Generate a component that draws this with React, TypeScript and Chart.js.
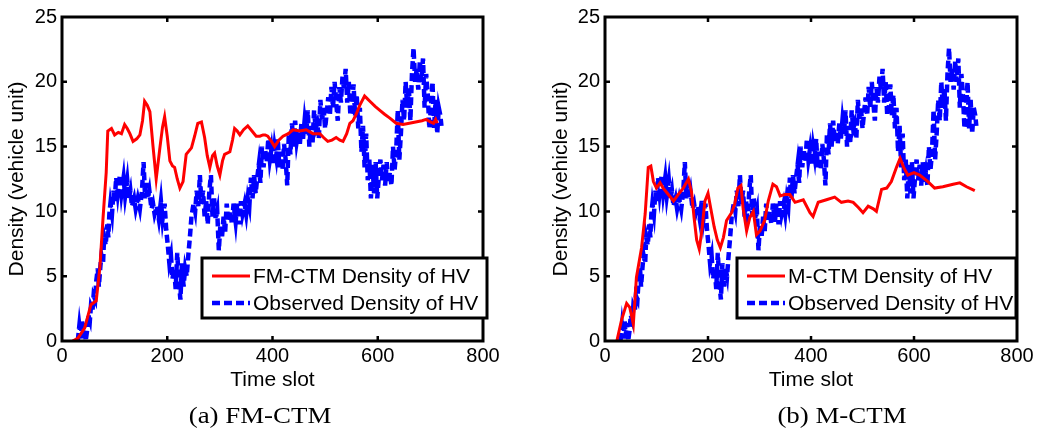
import React, { useEffect, useRef } from "react";
import { Chart, registerables } from "chart.js";
Chart.register(...registerables);

// ---------- data ----------
const xMin = 0;
const xMax = 800;
const xStep = 200;
const yMin = 0;
const yMax = 25;
const yStep = 5;

const obsTime = [
  30, 33, 36, 38, 40, 43, 45, 48, 50, 53, 55, 58, 60, 63, 65, 68, 70, 73, 75, 78, 80, 83, 86, 88, 90, 92, 95, 98, 100,
  103, 106, 110, 113, 117, 120, 124, 127, 130, 133, 137, 140, 144, 148, 152, 155, 158, 160, 163, 166, 170, 173, 176,
  180, 184, 188, 191, 195, 198, 201, 204, 207, 210, 213, 216, 219, 222, 225, 228, 231, 234, 237, 240, 243, 246, 250,
  253, 256, 259, 262, 265, 268, 271, 274, 277, 280, 283, 286, 289, 292, 295, 298, 301, 304, 307, 310, 313, 316, 320,
  323, 326, 330, 333, 337, 340, 343, 347, 350, 353, 356, 359, 362, 365, 368, 371, 374, 377, 380, 383, 386, 389, 392,
  395, 398, 401, 404, 407, 410, 413, 416, 419, 422, 425, 428, 431, 434, 437, 440, 443, 446, 449, 452, 455, 458, 461,
  464, 467, 470, 473, 476, 479, 482, 485, 488, 491, 494, 497, 500, 503, 506, 509, 512, 515, 518, 521, 524, 527, 530,
  533, 536, 539, 542, 545, 548, 551, 554, 557, 560, 563, 566, 569, 572, 575, 578, 581, 584, 587, 590, 593, 596, 599,
  602, 605, 608, 611, 614, 617, 620, 623, 626, 629, 632, 635, 638, 641, 644, 647, 650, 653, 656, 659, 662, 665, 668,
  671, 674, 677, 680, 683, 686, 689, 692, 695, 698, 701, 704, 707, 710, 713, 716, 719, 721,
];
const obsDensity = [
  0, 1.2, 0.2, 1.6, 0.4, 1.4, 0, 0.9, 2, 1.6, 2.7, 2.4, 3.5, 3.2, 4.6, 5.6, 4.2, 5.8, 6.6, 6, 8, 7.4, 9, 8, 9.8, 10.6,
  9.8, 11.6, 10.8, 12.6, 11.4, 12.8, 11.4, 12.6, 11.2, 12.4, 11, 11.6, 10.4, 11, 10.2, 11, 10.2, 11.6, 13.8, 11, 12.2,
  11, 11.6, 10.2, 10.6, 9.8, 10.4, 9.4, 10.8, 9.4, 10.6, 8.6, 7.4, 6, 6.6, 4.8, 5.6, 4, 6.8, 4.6, 3.2, 6, 4.2, 5.6, 5,
  6.6, 8, 9.6, 10.6, 10, 11.6, 10.4, 12.8, 10.6, 11.6, 9.6, 10.8, 9, 11.6, 12.8, 9.6, 11, 9.4, 10, 7, 9, 8, 9.6, 8.4,
  10.6, 9.2, 10, 9, 10.6, 9.2, 10.6, 9, 10.8, 9.8, 10.6, 9.8, 11, 10.4, 12.6, 11, 12.8, 11.4, 12.6, 13.6, 12.2, 15,
  13.4, 14.8, 13.8, 15.6, 14, 14.8, 13.6, 15, 14.2, 15.6, 13.4, 14.6, 13.2, 15.2, 14, 12, 16, 14.4, 16.8, 15, 17, 15.4,
  16.2, 15.2, 16.8, 15.6, 17, 16, 17.8, 15, 16.6, 15.2, 17.8, 16.4, 16.8, 15.6, 18.6, 17, 18, 16.4, 17.6, 18.8, 17.4,
  19.6, 18, 20, 18.4, 17, 19.6, 18.4, 20.4, 19.4, 21, 18.4, 20, 17.4, 18, 19.8, 17.4, 19, 16.4, 18, 14.6, 16.6, 13.4,
  16, 12.4, 14, 11, 13.6, 11.4, 13.8, 11, 12.6, 14, 12.4, 13.6, 12, 13.8, 12.2, 13, 12, 15, 13.2, 14.6, 17.8, 14, 16,
  18.6, 17, 20, 18, 19.6, 17, 20.6, 22.6, 20, 21, 19.4, 21.6, 20, 21.8, 18, 20.6, 19, 16.4, 18, 20, 16.4, 18.6, 16,
  18, 17.4, 16.6,
];

const fmTime = [
  20, 30, 43, 55, 65, 72, 78, 84, 87, 94, 100, 107, 113, 119, 124, 129, 135, 142, 148, 153, 157, 162, 167, 173, 179,
  186, 191, 195, 200, 205, 210, 214, 219, 224, 230, 236, 246, 252, 258, 265, 271, 276, 281, 286, 290, 295, 300, 305,
  309, 319, 324, 328, 333, 338, 345, 353, 361, 369, 376, 382, 386, 391, 398, 404, 412, 420, 430, 439, 452, 464, 477,
  490, 497, 505, 513, 521, 528, 534, 541, 547, 553, 559, 566, 575, 580, 585, 595, 604, 613, 623, 635, 648, 660, 672,
  684, 692, 700, 706, 710, 713,
];
const fmDensity = [
  0, 0.2, 1, 2.8, 3.1, 5.7, 9.5, 13, 16.2, 16.4, 15.9, 16.1, 16, 16.7, 16.4, 16, 15.4, 15.6, 15.9, 17, 18.5, 18.2,
  17.7, 15, 12.5, 14.9, 16.5, 17.3, 15.8, 13.9, 13.5, 13.4, 12.5, 11.8, 12.3, 14.4, 14.9, 15.8, 16.8, 16.9, 15.7, 14.3,
  13.4, 14.3, 14.5, 13.5, 12.8, 13.9, 14.4, 14.6, 15.5, 16.4, 16.2, 15.9, 16.3, 16.6, 16.2, 15.8, 15.8, 15.9, 15.9,
  15.8, 15.4, 15, 15.5, 15.8, 16, 16.3, 16.2, 16.3, 16, 16, 15.7, 15.4, 15.5, 15.7, 15.5, 15.4, 16, 16.8, 17, 17.5,
  18.2, 18.9, 18.7, 18.5, 18.1, 17.8, 17.5, 17.2, 16.8, 16.7, 16.8, 16.9, 17, 17.1, 16.9, 16.8, 17.1, 16.8,
];

const mTime = [
  23, 32, 42, 48, 55, 61, 71, 78, 84, 89, 94, 100, 107, 113, 123, 133, 142, 152, 162, 168, 173, 178, 183, 188, 194,
  200, 205, 212, 218, 224, 230, 236, 246, 252, 258, 264, 268, 275, 281, 288, 294, 301, 310, 317, 326, 333, 340, 349,
  359, 369, 385, 398, 404, 414, 430, 446, 459, 472, 482, 492, 501, 511, 521, 527, 537, 547, 556, 566, 573, 580, 588,
  600, 611, 627, 640, 656, 676, 689, 702, 718,
];
const mDensity = [
  0, 1.6, 2.9, 2.6, 1.3, 4.9, 7.2, 9.8, 13.4, 13.5, 12.3, 11.8, 12.2, 11.8, 11.3, 10.8, 11.3, 11.8, 12.5, 11.5, 9.5,
  7.8, 7.1, 8.5, 10.8, 11.4, 10.3, 8.8, 7.8, 7.2, 8, 9.3, 9.9, 10.6, 11.8, 12, 10.3, 8.5, 9.5, 10, 8.2, 8.5, 9.3, 10.8,
  12.1, 11.9, 11.2, 11.3, 11.3, 10.7, 10.9, 9.9, 9.6, 10.7, 10.9, 11.1, 10.7, 10.8, 10.7, 10.3, 9.9, 10.4, 10.2, 10,
  11.7, 11.8, 12.3, 13.4, 14.1, 13.4, 12.8, 13, 12.8, 12.3, 11.8, 11.9, 12.1, 12.2, 11.9, 11.6,
];

const fmLabel = "FM-CTM Density of HV";
const mLabel = "M-CTM Density of HV";
const obsLabel = "Observed Density of HV";
const xTitle = "Time slot";
const yTitle = "Density (vehicle unit)";
const captionA = "(a) FM-CTM";
const captionB = "(b) M-CTM";

// ---------- styling ----------
const SANS = "'Liberation Sans', Arial, Helvetica, sans-serif";
const SERIF = "'Liberation Serif', 'Times New Roman', serif";
const RED = "#ff0000";
const BLUE = "#0000ff";

const toPoints = (xs: number[], ys: number[]) => xs.map((x, i) => ({ x, y: ys[i] }));

type PanelProps = {
  left: number;
  width: number;
  yAxisWidth: number;
  yTitlePad: number;
  modelLabel: string;
  modelTime: number[];
  modelDensity: number[];
  legendBox: { x: number; y: number; w: number; h: number };
  caption: string;
  captionCenter: number;
};

const framePlugin = {
  id: "frameTicks",
  afterDatasetsDraw(chart: any, _args: any, opts: any) {
    const { ctx, chartArea } = chart;
    const { left, right, top, bottom } = chartArea;
    const xs = chart.scales.x;
    const ys = chart.scales.y;
    ctx.save();
    ctx.strokeStyle = "#000";
    ctx.lineWidth = 3;
    ctx.strokeRect(left, top, right - left, bottom - top);
    ctx.lineWidth = 2.5;
    const tl = 5;
    ctx.beginPath();
    for (let v = xMin + xStep; v < xMax; v += xStep) {
      const px = xs.getPixelForValue(v);
      ctx.moveTo(px, bottom);
      ctx.lineTo(px, bottom - tl);
      ctx.moveTo(px, top);
      ctx.lineTo(px, top + tl);
    }
    for (let v = yMin + yStep; v < yMax; v += yStep) {
      const py = ys.getPixelForValue(v);
      ctx.moveTo(left, py);
      ctx.lineTo(left + tl, py);
      ctx.moveTo(right, py);
      ctx.lineTo(right - tl, py);
    }
    ctx.stroke();

    // legend box
    const b = opts.box;
    ctx.fillStyle = "#fff";
    ctx.fillRect(b.x, b.y, b.w, b.h);
    ctx.lineWidth = 3;
    ctx.strokeRect(b.x, b.y, b.w, b.h);
    const rows = chart.data.datasets;
    rows.forEach((ds: any, i: number) => {
      const cy = b.y + 18 + i * 27;
      ctx.save();
      ctx.strokeStyle = ds.borderColor;
      ctx.lineWidth = ds.borderWidth;
      ctx.setLineDash(ds.borderDash || []);
      ctx.beginPath();
      ctx.moveTo(b.x + 10, cy);
      ctx.lineTo(b.x + 48, cy);
      ctx.stroke();
      ctx.restore();
      ctx.fillStyle = "#000";
      ctx.font = `21px ${SANS}`;
      ctx.textBaseline = "middle";
      ctx.textAlign = "left";
      ctx.fillText(ds.label, b.x + 51, cy + 1);
    });
    ctx.restore();
  },
};

function Panel(p: PanelProps) {
  const ref = useRef<HTMLCanvasElement>(null);
  useEffect(() => {
    if (!ref.current) return;
    const plotRight = p.width - 37;
    const chart = new Chart(ref.current, {
      type: "line",
      data: {
        datasets: [
          {
            label: p.modelLabel,
            data: toPoints(p.modelTime, p.modelDensity),
            borderColor: RED,
            borderWidth: 3,
            pointRadius: 0,
            tension: 0,
            fill: false,
          },
          {
            label: obsLabel,
            data: toPoints(obsTime, obsDensity),
            borderColor: BLUE,
            borderWidth: 4.5,
            borderDash: [8, 4],
            pointRadius: 0,
            tension: 0,
            fill: false,
          },
        ],
      },
      options: {
        animation: false,
        responsive: false,
        devicePixelRatio: 1,
        events: [],
        layout: { padding: { left: 0, right: p.width - plotRight, top: 15, bottom: 41 } },
        plugins: {
          legend: { display: false },
          tooltip: { enabled: false },
          frameTicks: { box: p.legendBox },
        } as any,
        scales: {
          x: {
            type: "linear",
            min: xMin,
            max: xMax,
            grid: { display: false, drawTicks: false },
            border: { display: false },
            ticks: { stepSize: xStep, color: "#000", font: { family: SANS, size: 20 }, padding: 3, maxRotation: 0 },
            title: { display: true, text: xTitle, color: "#000", font: { family: SANS, size: 21 }, padding: 0 },
            afterFit: (s: any) => {
              s.height = 52;
            },
          },
          y: {
            type: "linear",
            min: yMin,
            max: yMax,
            grid: { display: false, drawTicks: false },
            border: { display: false },
            ticks: { stepSize: yStep, color: "#000", font: { family: SANS, size: 20 }, padding: 5 },
            title: {
              display: true,
              text: yTitle,
              color: "#000",
              font: { family: SANS, size: 21 },
              padding: { top: p.yTitlePad, bottom: 0 },
            },
            afterFit: (s: any) => {
              s.width = p.yAxisWidth;
            },
          },
        },
      },
      plugins: [framePlugin],
    } as any);
    return () => chart.destroy();
  }, []);
  return (
    <div style={{ position: "absolute", left: p.left, top: 0, width: p.width, height: 434 }}>
      <canvas ref={ref} width={p.width} height={434} style={{ display: "block" }} />
      <div
        style={{
          position: "absolute",
          left: p.captionCenter - 100,
          width: 200,
          top: 401,
          textAlign: "center",
          fontFamily: SERIF,
          fontSize: 24,
          lineHeight: "28px",
          color: "#000",
          transform: "scaleX(1.12)",
          whiteSpace: "nowrap",
        }}
      >
        {p.caption}
      </div>
    </div>
  );
}

export default function App() {
  return (
    <div style={{ position: "absolute", left: 0, top: 0, width: 1054, height: 434, background: "#fff", overflow: "hidden" }}>
      <Panel
        left={0}
        width={520}
        yAxisWidth={62}
        yTitlePad={5}
        modelLabel={fmLabel}
        modelTime={fmTime}
        modelDensity={fmDensity}
        legendBox={{ x: 202, y: 258, w: 285, h: 60 }}
        caption={captionA}
        captionCenter={260}
      />
      <Panel
        left={520}
        width={534}
        yAxisWidth={85}
        yTitlePad={29}
        modelLabel={mLabel}
        modelTime={mTime}
        modelDensity={mDensity}
        legendBox={{ x: 217, y: 258, w: 279, h: 60 }}
        caption={captionB}
        captionCenter={322}
      />
    </div>
  );
}
